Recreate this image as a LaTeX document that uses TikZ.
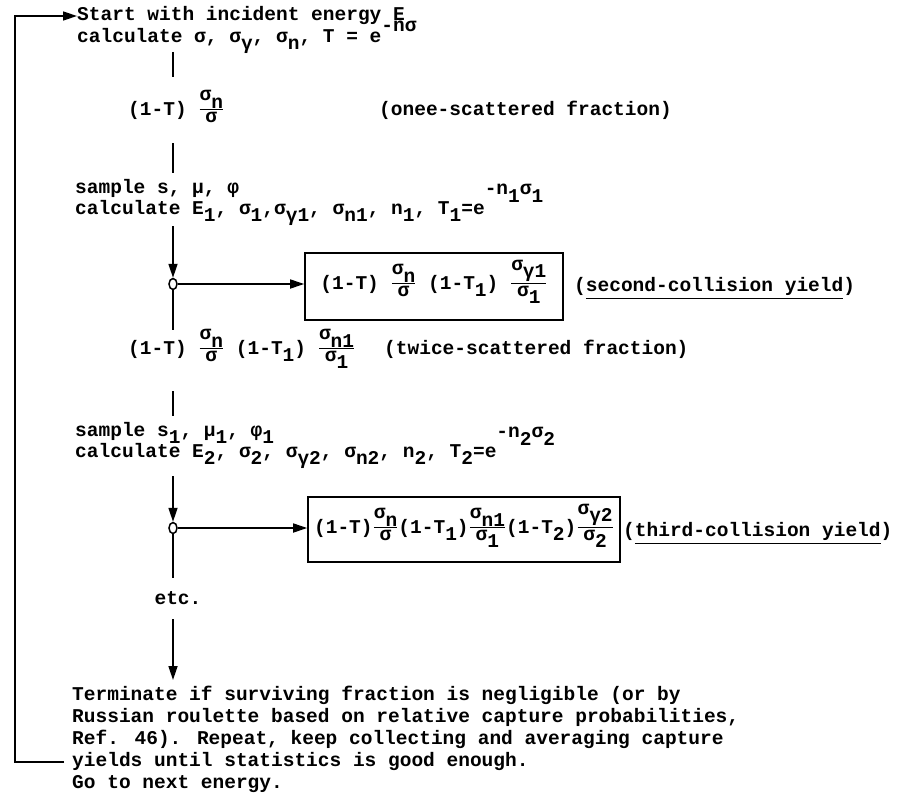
\documentclass[tikz,border=0pt]{standalone}
\usepackage{amsmath}
\usepackage{fontspec}
\setmainfont{Liberation Mono}
\usetikzlibrary{arrows.meta,shapes.geometric}
\newcommand\lowr[1]{\raisebox{-0.4em}{#1}}
\newcommand\raisr[1]{\raisebox{0.52em}{#1}}
\newcommand\raisrr[1]{\raisebox{1.0em}{#1}}
\newcommand\frc[2]{$\genfrac{}{}{1.2pt}{}{\hbox{#1}}{\hbox{#2}}$}
\begin{document}
\begin{tikzpicture}[x=1pt,y=-1pt,
  every node/.style={font=\fontsize{19.5}{22}\selectfont\bfseries, inner sep=0pt},
  txt/.style={anchor=base west},
  line/.style={line width=1.7pt},
  arr/.style={line width=1.7pt, -{Triangle[length=14pt,width=9pt]}},
  junction/.style={ellipse, draw, fill=white, line width=1.5pt, minimum width=8pt, minimum height=11pt, inner sep=0pt},
  ybox/.style={draw, line width=1.7pt, inner sep=0pt}]
\useasboundingbox (0,0) rectangle (901,800);

% top
\node[txt] (start) at (77,21) {Start with incident energy E};
\node[txt] (calc0) at (77,42) {calculate σ, σ\lowr{γ}, σ\lowr{n}, T = e\raisr{-nσ}};
\coordinate (v1a) at (173,52);
\coordinate (v1b) at (173,77);
\draw[line] (v1a) -- (v1b);

\node[txt] (f0) at (128,115) {(1-T) \frc{σ\lowr{n}}{σ}};
\node[txt] (once) at (379,115) {(onee-scattered fraction)};
\coordinate (v2a) at (173,143);
\coordinate (v2b) at (173,173);
\draw[line] (v2a) -- (v2b);

\node[txt] (samp1) at (75,193) {sample s, μ, φ};
\node[txt] (calc1) at (75,214) {calculate E\lowr{1}, σ\lowr{1},σ\lowr{γ1}, σ\lowr{n1}, n\lowr{1}, T\lowr{1}=e\raisrr{-n\lowr{1}σ\lowr{1}}};

\coordinate (a1) at (173,226);
\node[junction] (j1) at (173,284) {};
\draw[arr] (a1) -- (j1.north);
\node[ybox, minimum width=258pt, minimum height=67pt] (box1) at (434,286.5) {};
\node[anchor=base] (box1t) at (434,289)
  {(1-T) \frc{σ\lowr{n}}{σ} (1-T\lowr{1}) \frc{σ\lowr{γ1}}{σ\lowr{1}}};
\draw[arr] (j1.east) -- (j1.east -| box1.west);
\node[txt] (lab1) at (574,291) {(\underline{second-collision yield})};
\coordinate (v3) at (173,330);
\draw[line] (j1.south) -- (v3);

\node[txt] (f1) at (128,354) {(1-T) \frc{σ\lowr{n}}{σ} (1-T\lowr{1}) \frc{σ\lowr{n1}}{σ\lowr{1}}};
\node[txt] (twice) at (384,354) {(twice-scattered fraction)};
\coordinate (v4a) at (173,391);
\coordinate (v4b) at (173,416);
\draw[line] (v4a) -- (v4b);

\node[txt] (samp2) at (75,436) {sample s\lowr{1}, μ\lowr{1}, φ\lowr{1}};
\node[txt] (calc2) at (75,457) {calculate E\lowr{2}, σ\lowr{2}, σ\lowr{γ2}, σ\lowr{n2}, n\lowr{2}, T\lowr{2}=e\raisrr{-n\lowr{2}σ\lowr{2}}};

\coordinate (a2) at (173,476);
\node[junction] (j2) at (173,528) {};
\draw[arr] (a2) -- (j2.north);
\node[ybox, minimum width=312pt, minimum height=65pt] (box2) at (464,529.5) {};
\node[anchor=base] (box2t) at (464,533)
  {(1-T)\frc{σ\lowr{n}}{σ}(1-T\lowr{1})\frc{σ\lowr{n1}}{σ\lowr{1}}(1-T\lowr{2})\frc{σ\lowr{γ2}}{σ\lowr{2}}};
\draw[arr] (j2.east) -- (j2.east -| box2.west);
\node[txt] (lab2) at (623,536) {(\underline{third-collision yield})};
\coordinate (v5) at (173,578);
\draw[line] (j2.south) -- (v5);

\node (etc) at (178,598) {etc.};
\coordinate (a3) at (173,619);
\coordinate (a3e) at (173,680);
\draw[arr] (a3) -- (a3e);

\node[anchor=north west, align=left] (term) at (72,686)
  {Terminate if surviving fraction is negligible (or by\\
   Russian roulette based on relative capture probabilities,\\
   Ref. 46). Repeat, keep collecting and averaging capture\\
   yields until statistics is good enough.\\
   Go to next energy.};

% return loop
\coordinate (ret) at (64,762);
\coordinate (lx) at (15,0);
\draw[arr] (ret) -- (ret -| lx) -- (start.west -| lx) -- (start.west);
\end{tikzpicture}
\end{document}
